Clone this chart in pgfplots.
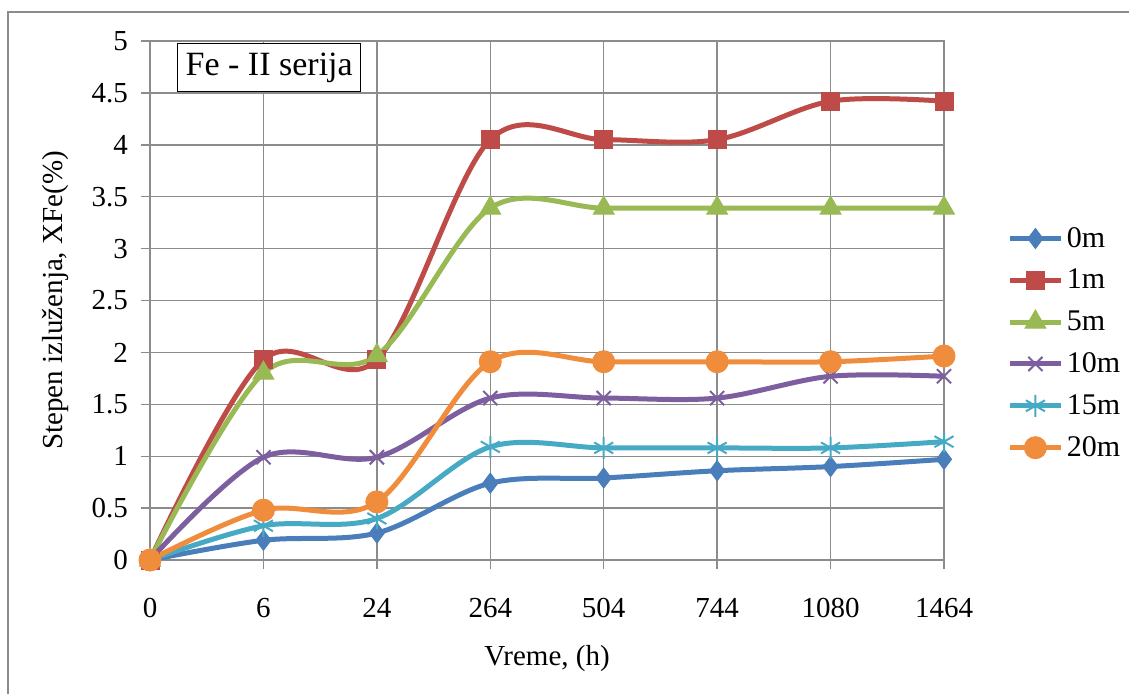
\documentclass[border=0pt]{standalone}
\usepackage{pgfplots}
\pgfplotsset{compat=1.18}
\usepackage{fontspec}
\setmainfont{Liberation Serif}
\usetikzlibrary{plotmarks}
\definecolor{c0}{HTML}{4A7EBB}
\definecolor{c1}{HTML}{BE4B48}
\definecolor{c5}{HTML}{98B954}
\definecolor{c10}{HTML}{7D5FA0}
\definecolor{c15}{HTML}{46AAC5}
\definecolor{c20}{HTML}{F08D3C}
\definecolor{gridg}{HTML}{8C8C8C}
\begin{document}
\begin{tikzpicture}
\clip (0,0) rectangle (564.5pt,346.5pt);
\draw[gridg, line width=0.6pt] (4pt,-20pt) -- (4pt,340.5pt) -- (600pt,340.5pt);
\begin{axis}[
  at={(75pt,66.5pt)}, anchor=south west,
  scale only axis, width=397pt, height=259.5pt,
  xmin=0, xmax=7, ymin=0, ymax=5,
  xtick={0,...,7},
  xticklabels={0,6,24,264,504,744,1080,1464},
  ytick={0,0.5,...,5},
  yticklabels={0,0.5,1,1.5,2,2.5,3,3.5,4,4.5,5},
  grid=major,
  major grid style={gridg, line width=0.7pt},
  axis line style={gridg, line width=0.7pt},
  tick style={gridg, line width=0.7pt},
  tick align=outside, major tick length=4.5pt,
  xtick pos=bottom, ytick pos=left,
  tick label style={font=\fontsize{14.5}{17}\selectfont},
  xticklabel style={yshift=-11pt},
  yticklabel style={xshift=-3pt},
  xlabel={Vreme, (h)},
  ylabel={Stepen izluženja, XFe(\%)},
  label style={font=\fontsize{14.5}{17}\selectfont},
  xlabel style={at={(0.5,0)}, anchor=north, yshift=-39pt},
  ylabel style={at={(0,0.5)}, anchor=south, yshift=37pt},
  clip=false,
  every axis plot/.append style={line width=2.5pt, smooth, tension=0.55},
  legend style={draw=none, fill=none, at={(1.08,0.65)}, anchor=north west,
    font=\fontsize{15}{18}\selectfont, row sep=5.5pt, inner sep=0pt},
  legend cell align=left,
  legend image code/.code={\draw[mark repeat=2,mark phase=2] plot coordinates {(0pt,0pt) (12.5pt,0pt) (25pt,0pt)};},
]
\addplot[c0, mark=diamond*, mark size=5pt, mark options={solid, fill=c0, line width=0.5pt}] coordinates {
 (0,0) (1,0.19) (2,0.26) (3,0.74) (4,0.79) (5,0.86) (6,0.90) (7,0.97)};
\addlegendentry{0m}
\addplot[c1, mark=square*, mark size=4.5pt, mark options={solid, fill=c1, line width=0.5pt}] coordinates {
 (0,0) (1,1.93) (2,1.93) (3,4.05) (4,4.05) (5,4.05) (6,4.42) (7,4.42)};
\addlegendentry{1m}
\addplot[c5, mark=triangle*, mark size=6pt, mark options={solid, fill=c5, line width=0.5pt}] coordinates {
 (0,0) (1,1.80) (2,1.97) (3,3.39) (4,3.39) (5,3.39) (6,3.39) (7,3.39)};
\addlegendentry{5m}
\addplot[c10, mark=x, mark size=5pt, mark options={solid, line width=1pt}] coordinates {
 (0,0) (1,0.99) (2,0.99) (3,1.56) (4,1.56) (5,1.56) (6,1.77) (7,1.77)};
\addlegendentry{10m}
\addplot[c15, mark=asterisk, mark size=5.5pt, mark options={solid, line width=1pt}] coordinates {
 (0,0) (1,0.33) (2,0.40) (3,1.09) (4,1.08) (5,1.08) (6,1.08) (7,1.14)};
\addlegendentry{15m}
\addplot[c20, mark=*, mark size=5.5pt, mark options={solid, fill=c20, line width=0.5pt}] coordinates {
 (0,0) (1,0.48) (2,0.56) (3,1.91) (4,1.91) (5,1.91) (6,1.91) (7,1.965)};
\addlegendentry{20m}
\node[draw=black, line width=0.7pt, fill=white, anchor=north west, inner xsep=4pt,
  minimum height=24pt, font=\fontsize{17}{20}\selectfont]
  at (rel axis cs:0.034,0.996) {Fe - II serija};
\end{axis}
\end{tikzpicture}
\end{document}
